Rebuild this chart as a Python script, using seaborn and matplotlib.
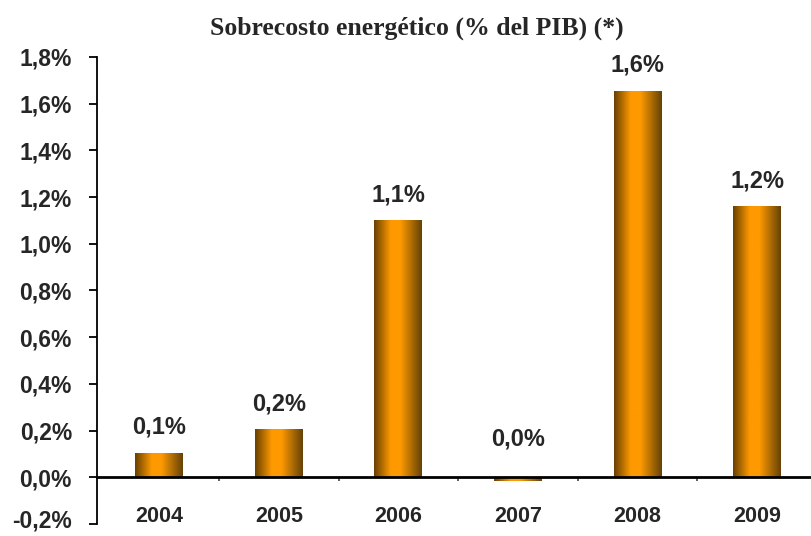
import numpy as np
import pandas as pd
import seaborn as sns
import matplotlib
matplotlib.use("Agg")
import matplotlib.pyplot as plt
import matplotlib.transforms as mtransforms
from matplotlib import font_manager
from matplotlib.colors import LinearSegmentedColormap
from matplotlib.ticker import FuncFormatter, MultipleLocator, FixedLocator

years = ["2004", "2005", "2006", "2007", "2008", "2009"]
values = [0.105, 0.205, 1.10, -0.018, 1.655, 1.16]
labels = ["0,1%", "0,2%", "1,1%", "0,0%", "1,6%", "1,2%"]
title = "Sobrecosto energético (% del PIB) (*)"

sns.set_theme(style="white")
names = {f.name for f in font_manager.fontManager.ttflist}
narrow = "Liberation Sans Narrow" if "Liberation Sans Narrow" in names else "Liberation Sans"
plt.rcParams["font.family"] = [narrow, "DejaVu Sans"]

df = pd.DataFrame({"year": years, "value": values})

fig = plt.figure(figsize=(8.11, 5.36), dpi=100)
ax = fig.add_axes([0.1196, 0.0224, 0.8804, 0.8713])

sns.barplot(data=df, x="year", y="value", color="#ff9900", width=0.4, ax=ax,
            saturation=1)

# horizontal gradient fill: dark edges, bright orange centre
cmap = LinearSegmentedColormap.from_list(
    "bar", [(0, "#684000"), (0.35, "#ff9900"), (0.55, "#ff9900"), (1, "#644208")])
grad = np.linspace(0, 1, 256).reshape(1, -1)
for p in ax.patches:
    x0, y0 = p.get_x(), p.get_y()
    w, h = p.get_width(), p.get_height()
    p.set_facecolor("none")
    p.set_edgecolor("none")
    im = ax.imshow(grad, cmap=cmap, aspect="auto",
                   extent=[x0, x0 + w, y0, y0 + h], zorder=2)
    im.set_clip_path(p)
ax.set_xlim(-0.52, 5.45)
ax.set_ylim(-0.2, 1.8)

for i, (v, lab) in enumerate(zip(values, labels)):
    off = 10 if v > 0 else 19
    ax.annotate(lab, (i, max(v, 0)), xytext=(0, off), textcoords="offset points",
                ha="center", va="bottom", fontsize=17, fontweight="bold")

ax.set_title(title, fontsize=18.5, fontweight="bold", family="Liberation Serif",
             pad=16, x=0.448)

for s in ["top", "right"]:
    ax.spines[s].set_visible(False)
ax.spines["left"].set_linewidth(1.3)
ax.spines["left"].set_color("black")
ax.spines["bottom"].set_position(("data", 0))
ax.spines["bottom"].set_linewidth(2)
ax.spines["bottom"].set_color("black")
ax.spines["bottom"].set_zorder(3)

ax.yaxis.set_major_locator(MultipleLocator(0.2))
ax.yaxis.set_major_formatter(FuncFormatter(lambda y, _: f"{y:.1f}".replace(".", ",") + "%"))
ax.tick_params(axis="y", direction="out", length=6, width=1.3, color="black",
               labelsize=16.5, pad=12, left=True)

ax.xaxis.set_minor_locator(FixedLocator([0.5, 1.5, 2.5, 3.5, 4.5]))
ax.tick_params(axis="x", which="minor", direction="out", length=3, width=1.2,
               color="#444444", bottom=True)
ax.tick_params(axis="x", which="major", length=0, pad=21, labelsize=15.5)
ax.set_xlabel("")
ax.set_ylabel("")

fig.canvas.draw()
lift = mtransforms.ScaledTranslation(0, 4 / 72, fig.dpi_scale_trans)
for t in ax.get_yticklabels():
    t.set_fontweight("bold")
    if t.get_text().startswith("-"):
        t.set_transform(t.get_transform() + lift)
for t in ax.get_xticklabels():
    t.set_fontweight("bold")

fig.savefig("out.png", dpi=100)
